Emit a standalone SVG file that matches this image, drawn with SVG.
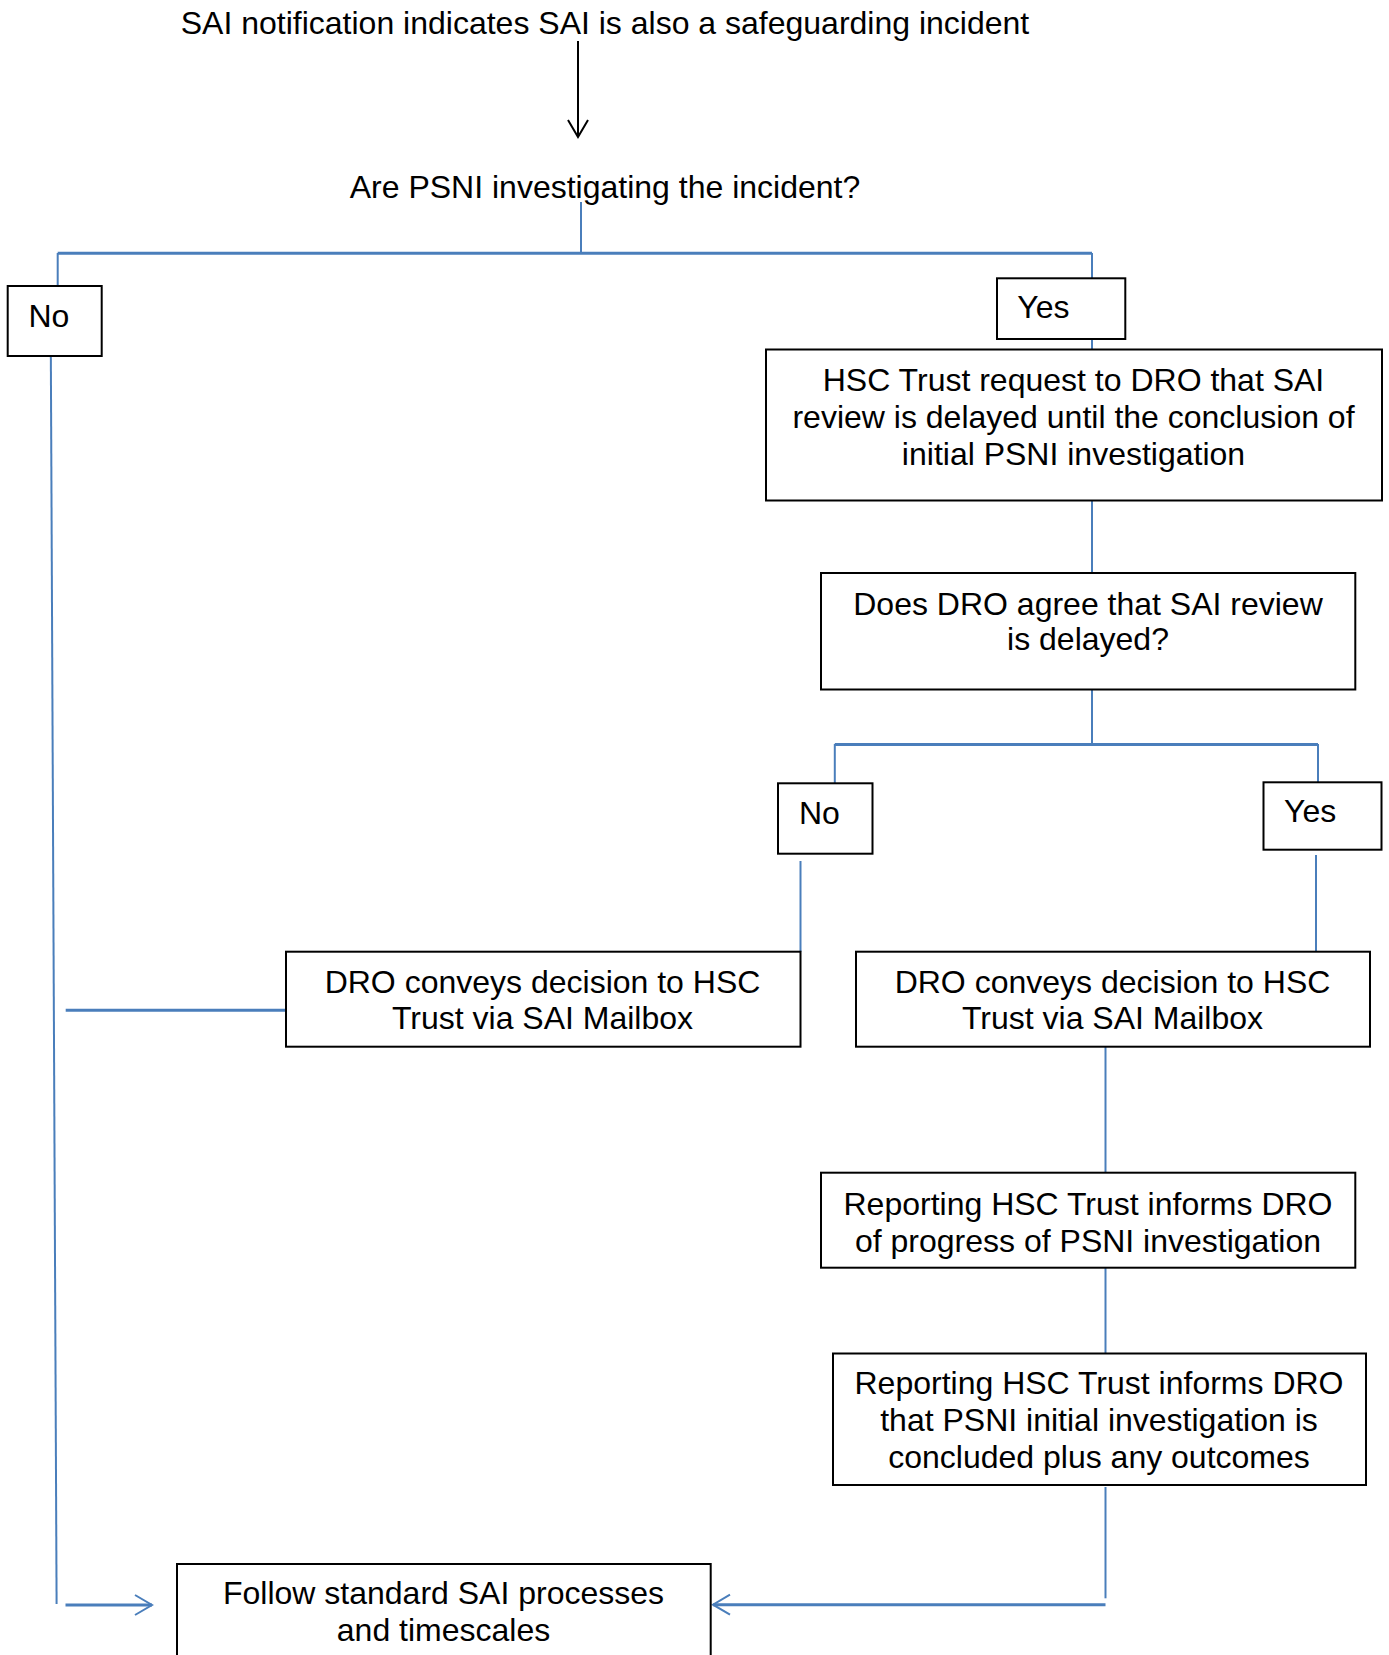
<svg xmlns="http://www.w3.org/2000/svg" width="1389" height="1655" viewBox="0 0 1389 1655">
<style>
text{font-family:"Liberation Sans",Arial,sans-serif;font-size:32px;fill:#000}
.c{text-anchor:middle}
.box{fill:#fff;stroke:#000;stroke-width:2}
.ln{fill:none;stroke:#4a7ebb;stroke-width:2}
.bar{fill:none;stroke:#4a7ebb;stroke-width:3}
.blk{fill:none;stroke:#000;stroke-width:2}
</style>
<defs>
<marker id="ab" markerUnits="userSpaceOnUse" markerWidth="30" markerHeight="30" viewBox="-20 -15 25 30" refX="0" refY="0" orient="auto" overflow="visible">
<path d="M-17,-10 L0,0 L-17,10" fill="none" stroke="#4a7ebb" stroke-width="2"/>
</marker>
<marker id="ak" markerUnits="userSpaceOnUse" markerWidth="30" markerHeight="30" viewBox="-20 -15 25 30" refX="0" refY="0" orient="auto" overflow="visible">
<path d="M-17,-10 L0,0 L-17,10" fill="none" stroke="#000" stroke-width="2"/>
</marker>
</defs>
<rect width="1389" height="1655" fill="#fff"/>

<g id="connectors">
<line class="blk" x1="578" y1="41" x2="578" y2="137" marker-end="url(#ak)"/>
<line class="ln" x1="581" y1="202" x2="581" y2="254"/>
<line class="bar" x1="57.7" y1="253.3" x2="1092" y2="253.3"/>
<line class="ln" x1="57.7" y1="253" x2="57.7" y2="286"/>
<line class="ln" x1="1092" y1="253" x2="1092" y2="278.3"/>
<line class="ln" x1="1092" y1="339" x2="1092" y2="349.5"/>
<line class="ln" x1="50.7" y1="327" x2="56.6" y2="1604"/>
<line class="bar" x1="65.5" y1="1605" x2="152" y2="1605" marker-end="url(#ab)"/>
<line class="ln" x1="1092" y1="500.5" x2="1092" y2="573"/>
<line class="ln" x1="1092" y1="689.5" x2="1092" y2="745"/>
<line class="bar" x1="834.8" y1="744.5" x2="1318" y2="744.5"/>
<line class="ln" x1="834.8" y1="744" x2="834.8" y2="783.3"/>
<line class="ln" x1="1318" y1="744" x2="1318" y2="782.3"/>
<line class="ln" x1="800.5" y1="861" x2="800.5" y2="951.7"/>
<line class="ln" x1="1316" y1="855" x2="1316" y2="951.7"/>
<line class="bar" x1="65.7" y1="1010.3" x2="286" y2="1010.3"/>
<line class="ln" x1="1105.5" y1="1046.7" x2="1105.5" y2="1172.7"/>
<line class="ln" x1="1105.5" y1="1267.7" x2="1105.5" y2="1353.5"/>
<line class="ln" x1="1105.5" y1="1487" x2="1105.5" y2="1598.3"/>
<line class="bar" x1="1105.5" y1="1604.7" x2="713" y2="1604.7" marker-end="url(#ab)"/>
</g>

<g id="title">
<text class="c" x="605" y="34">SAI notification indicates SAI is also a safeguarding incident</text>
</g>
<g id="question">
<text class="c" x="605" y="198">Are PSNI investigating the incident?</text>
</g>
<g id="no1">
<rect class="box" x="7.7" y="286" width="94" height="70"/>
<text x="28.5" y="327.3">No</text>
</g>
<g id="yes1">
<rect class="box" x="997" y="278.3" width="128.3" height="60.7"/>
<text x="1017.3" y="318.3">Yes</text>
</g>
<g id="hsc-request">
<rect class="box" x="766" y="349.5" width="616" height="151"/>
<text class="c" x="1073.5" y="390.5">HSC Trust request to DRO that SAI</text>
<text class="c" x="1073.5" y="427.5">review is delayed until the conclusion of</text>
<text class="c" x="1073.5" y="464.5">initial PSNI investigation</text>
</g>
<g id="dro-agree">
<rect class="box" x="821" y="573" width="534.3" height="116.5"/>
<text class="c" x="1088" y="614.5">Does DRO agree that SAI review</text>
<text class="c" x="1088" y="649.5">is delayed?</text>
</g>
<g id="no2">
<rect class="box" x="778" y="783.3" width="94.5" height="70.4"/>
<text x="799" y="824">No</text>
</g>
<g id="yes2">
<rect class="box" x="1263.5" y="782.3" width="118" height="67.4"/>
<text x="1284" y="822.3">Yes</text>
</g>
<g id="dro-conveys-no">
<rect class="box" x="286" y="951.7" width="514.5" height="95"/>
<text class="c" x="542.5" y="992.7">DRO conveys decision to HSC</text>
<text class="c" x="542.5" y="1029.3">Trust via SAI Mailbox</text>
</g>
<g id="dro-conveys-yes">
<rect class="box" x="856" y="951.7" width="514" height="95"/>
<text class="c" x="1112.5" y="992.7">DRO conveys decision to HSC</text>
<text class="c" x="1112.5" y="1029.3">Trust via SAI Mailbox</text>
</g>
<g id="progress">
<rect class="box" x="821" y="1172.7" width="534.3" height="95"/>
<text class="c" x="1088" y="1214.5">Reporting HSC Trust informs DRO</text>
<text class="c" x="1088" y="1251.5">of progress of PSNI investigation</text>
</g>
<g id="concluded">
<rect class="box" x="833" y="1353.5" width="533" height="131.5"/>
<text class="c" x="1099" y="1394.3">Reporting HSC Trust informs DRO</text>
<text class="c" x="1099" y="1431">that PSNI initial investigation is</text>
<text class="c" x="1099" y="1467.7">concluded plus any outcomes</text>
</g>
<g id="follow">
<rect class="box" x="177" y="1564" width="533.7" height="110"/>
<text class="c" x="443.5" y="1604">Follow standard SAI processes</text>
<text class="c" x="443.5" y="1641">and timescales</text>
</g>
</svg>
